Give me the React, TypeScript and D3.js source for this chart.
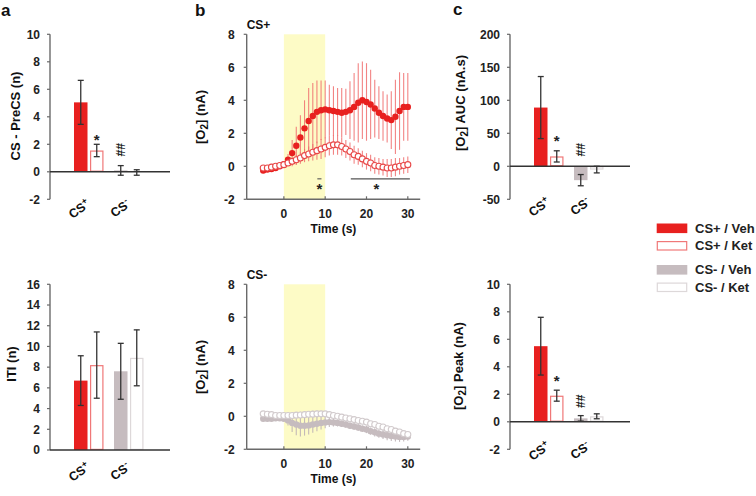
import React from 'react';
import * as d3 from 'd3';

// ---------- data ----------
const groups = ['CS+', 'CS-'];
const conditions = ['Veh', 'Ket'];

// panel a (top): CS - PreCS (n)   order: CS+/Veh, CS+/Ket, CS-/Veh, CS-/Ket
const preCsMean = [5.05, 1.55, 0.1, -0.05];
const preCsErr = [1.6, 0.45, 0.35, 0.2];
// panel a (bottom): ITI (n)
const itiMean = [6.7, 8.2, 7.6, 8.9];
const itiErr = [2.4, 3.2, 2.7, 2.7];
// panel c (top): [O2] AUC (nA.s)
const aucMean = [89, 15, -21, -5];
const aucErr = [47, 8.5, 8.5, 5];
// panel c (bottom): [O2] Peak (nA)
const peakMean = [5.5, 1.9, 0.25, 0.4];
const peakErr = [2.1, 0.4, 0.2, 0.18];

// tick labels
const ticksPreCs = [-2, 0, 2, 4, 6, 8, 10];
const ticksIti = [0, 2, 4, 6, 8, 10, 12, 14, 16];
const ticksAuc = [-50, 0, 50, 100, 150, 200];
const ticksPeak = [-2, 0, 2, 4, 6, 8, 10];
const ticksO2 = [-2, 0, 2, 4, 6, 8];
const ticksTime = [0, 10, 20, 30];

// panel b: time course (s)
const time = [-5, -4, -3, -2, -1, 0, 1, 2, 3, 4, 5, 6, 7, 8, 9, 10, 11, 12, 13, 14, 15, 16, 17, 18, 19, 20, 21, 22, 23, 24, 25, 26, 27, 28, 29, 30];
const cspVeh = [-0.25, -0.2, -0.17, -0.1, 0, 0.13, 0.4, 0.8, 1.25, 1.75, 2.3, 2.75, 3.05, 3.3, 3.4, 3.45, 3.4, 3.35, 3.3, 3.25, 3.3, 3.4, 3.6, 3.85, 4.0, 3.9, 3.75, 3.5, 3.25, 3.05, 2.9, 2.8, 3.0, 3.35, 3.6, 3.6];
const cspVehErr = [0.05, 0.05, 0.05, 0.05, 0.05, 0.1, 0.35, 0.8, 1.15, 1.35, 1.7, 2.0, 2.0, 1.9, 1.8, 1.75, 1.55, 1.5, 1.45, 1.5, 1.4, 1.75, 2.05, 2.4, 2.35, 2.35, 2.1, 1.75, 1.6, 1.5, 1.45, 1.75, 2.25, 2.35, 2.05, 2.05];
const cspKet = [-0.1, -0.1, -0.05, 0, 0.05, 0.1, 0.2, 0.3, 0.4, 0.5, 0.65, 0.75, 0.85, 0.95, 1.05, 1.15, 1.25, 1.3, 1.3, 1.2, 1.05, 0.9, 0.7, 0.6, 0.45, 0.3, 0.2, 0.05, 0, -0.05, -0.1, -0.1, -0.05, 0, 0.05, 0.1];
const cspKetErr = [0.05, 0.05, 0.05, 0.05, 0.05, 0.1, 0.15, 0.2, 0.3, 0.35, 0.4, 0.45, 0.5, 0.55, 0.6, 0.6, 0.6, 0.6, 0.6, 0.55, 0.55, 0.55, 0.55, 0.5, 0.5, 0.5, 0.5, 0.5, 0.5, 0.5, 0.55, 0.55, 0.55, 0.5, 0.5, 0.5];
const csmVeh = [-0.15, -0.15, -0.15, -0.12, -0.12, -0.15, -0.25, -0.4, -0.5, -0.57, -0.57, -0.55, -0.5, -0.45, -0.4, -0.37, -0.35, -0.37, -0.4, -0.45, -0.5, -0.57, -0.62, -0.68, -0.75, -0.8, -0.9, -0.97, -1.05, -1.1, -1.15, -1.2, -1.23, -1.25, -1.25, -1.23];
const csmVehErr = [0.08, 0.08, 0.08, 0.08, 0.08, 0.1, 0.3, 0.55, 0.65, 0.65, 0.6, 0.55, 0.5, 0.45, 0.4, 0.35, 0.3, 0.25, 0.22, 0.2, 0.2, 0.2, 0.2, 0.2, 0.2, 0.22, 0.22, 0.25, 0.25, 0.28, 0.3, 0.3, 0.3, 0.3, 0.28, 0.25];
const csmKet = [0.15, 0.12, 0.1, 0.05, 0.05, 0.05, 0.05, 0.05, 0.07, 0.08, 0.1, 0.12, 0.13, 0.15, 0.15, 0.15, 0.1, 0.05, 0, -0.05, -0.1, -0.15, -0.2, -0.25, -0.3, -0.35, -0.45, -0.5, -0.6, -0.65, -0.75, -0.8, -0.9, -0.95, -1.05, -1.1];
const csmKetErr = [0.1, 0.1, 0.1, 0.1, 0.1, 0.1, 0.12, 0.15, 0.18, 0.2, 0.2, 0.2, 0.2, 0.2, 0.18, 0.16, 0.15, 0.14, 0.13, 0.12, 0.12, 0.12, 0.12, 0.12, 0.12, 0.12, 0.12, 0.12, 0.12, 0.12, 0.12, 0.12, 0.12, 0.12, 0.12, 0.12];

// cue period (s) and significance spans (s)
const cueSpan = [0, 10];
const sigSpans = [[8.1, 9.1], [16.2, 30.5]];

const legendLabels = ['CS+ / Veh', 'CS+ / Ket', 'CS- / Veh', 'CS- / Ket'];

// ---------- styles ----------
const FONT = '"Liberation Sans", Arial, Helvetica, sans-serif';
const RED = '#e8201f';
const RED_LIGHT = '#f07878';
const GREY = '#c6bcbf';
const GREY_LIGHT = '#ddd8d9';
const AXIS = '#6a6a6a';
const DARK = '#333';

const barFill = [RED, '#fff', GREY, '#fff'];
const barStroke = [RED, RED_LIGHT, GREY, GREY_LIGHT];

type BarProps = {
  x0: number; yTop: number; yBot: number; domain: [number, number]; ticks: number[];
  means: number[]; errs: number[]; title: string | React.ReactNode; titleX: number; titleY: number;
  labelY: number; star?: number; hash?: number;
};

function CatLabel({ x, y, name }: { x: number; y: number; name: string }) {
  return (
    <text x={x} y={y} textAnchor="end" transform={`rotate(-35 ${x} ${y})`} fontSize={12.5} fontWeight="bold" fontFamily={FONT} fill="#111">
      <tspan>CS</tspan>
      <tspan dy={-5} fontSize={9}>{name.slice(2)}</tspan>
    </text>
  );
}

function Hash({ x, yc }: { x: number; yc: number }) {
  // stacked "##" drawn as one rotated text
  return (
    <text x={x} y={yc} dy="0.36em" textAnchor="middle" transform={`rotate(90 ${x} ${yc})`} fontSize={12.5} fontWeight="bold" fontFamily={FONT} fill="#222"
      textLength={13.5} lengthAdjust="spacingAndGlyphs">##</text>
  );
}

function BarPanel(p: BarProps) {
  const y = d3.scaleLinear().domain(p.domain).range([p.yBot, p.yTop]);
  const outer = d3.scaleBand().domain(groups).range([p.x0 + 20, p.x0 + 100]);
  const inner = d3.scaleBand().domain(conditions).range([4, 33.5]).paddingInner(0.156);
  const bw = inner.bandwidth();
  const bars = groups.flatMap((g, gi) => conditions.map((c, ci) => ({ g, c, i: gi * 2 + ci, x: (outer(g) as number) + (inner(c) as number) })));
  return (
    <g>
      <line x1={p.x0} x2={p.x0} y1={p.yTop} y2={p.yBot} stroke={AXIS} strokeWidth={1.4} />
      {p.ticks.map((t) => (
        <g key={t}>
          <line x1={p.x0 - 3} x2={p.x0} y1={y(t)} y2={y(t)} stroke={AXIS} strokeWidth={1.2} />
          <text x={p.x0 - 10} y={y(t)} dy="0.36em" textAnchor="end" fontSize={12} fontWeight="bold" fontFamily={FONT} fill="#222">{t}</text>
        </g>
      ))}
      {bars.map((b) => {
        const m = p.means[b.i];
        const top = Math.min(y(m), y(0));
        const h = Math.abs(y(m) - y(0));
        const white = barFill[b.i] === '#fff';
        return (
          <rect key={b.i} x={white ? b.x + 0.6 : b.x} y={white ? top + 0.6 : top} width={white ? bw - 1.2 : bw} height={white ? Math.max(h - 1.2, 0) : h}
            fill={barFill[b.i]} stroke={white ? barStroke[b.i] : 'none'} strokeWidth={1.2} />
        );
      })}
      <line x1={p.x0} x2={p.x0 + 120} y1={y(0)} y2={y(0)} stroke={DARK} strokeWidth={1.4} />
      {bars.map((b) => {
        const m = p.means[b.i];
        const e = p.errs[b.i];
        const cx = b.x + bw / 2;
        return (
          <g key={'e' + b.i} stroke={DARK} strokeWidth={1.3}>
            <line x1={cx} x2={cx} y1={y(m - e)} y2={y(m + e)} />
            <line x1={cx - 3} x2={cx + 3} y1={y(m - e)} y2={y(m - e)} />
            <line x1={cx - 3} x2={cx + 3} y1={y(m + e)} y2={y(m + e)} />
          </g>
        );
      })}
      {p.star !== undefined && (
        <text x={bars[1].x + bw / 2} y={y(p.star) + 8} textAnchor="middle" fontSize={15} fontWeight="bold" fontFamily={FONT} fill="#222">*</text>
      )}
      {p.hash !== undefined && <Hash x={bars[2].x + bw / 2} yc={y(p.hash)} />}
      {groups.map((g) => (
        <CatLabel key={g} x={(outer(g) as number) + outer.bandwidth() / 2 + 1} y={p.labelY} name={g} />
      ))}
      <text x={p.titleX} y={p.titleY} textAnchor="middle" transform={`rotate(-90 ${p.titleX} ${p.titleY})`} fontSize={13} fontWeight="bold" fontFamily={FONT} fill="#111">{p.title}</text>
    </g>
  );
}

function O2Title({ x, y, rest }: { x: number; y: number; rest: string }) {
  return (
    <text x={x} y={y} textAnchor="middle" transform={`rotate(-90 ${x} ${y})`} fontSize={13} fontWeight="bold" fontFamily={FONT} fill="#111">
      <tspan>[O</tspan>
      <tspan dy={3} fontSize={10}>2</tspan>
      <tspan dy={-3}>{`] ${rest}`}</tspan>
    </text>
  );
}

type LineProps = {
  dy: number; label: string; veh: number[]; vehErr: number[]; ket: number[]; ketErr: number[];
  vehColor: string; errColor: string; ketStroke: string; sig?: boolean;
};

function LinePanel(p: LineProps) {
  const x0 = 246.7;
  const x = d3.scaleLinear().domain([-9, 33]).range([x0, 420.2]);
  const y = d3.scaleLinear().domain([-2, 8]).range([199.3 + p.dy, 34.3 + p.dy]);
  return (
    <g>
      <rect x={x(cueSpan[0])} y={y(8)} width={x(cueSpan[1]) - x(cueSpan[0])} height={y(-2) - y(8)} fill="#fdfbc6" />
      <line x1={x0} x2={x0} y1={y(8)} y2={y(-2)} stroke={AXIS} strokeWidth={1.4} />
      <line x1={x0} x2={420.2} y1={y(-2)} y2={y(-2)} stroke={AXIS} strokeWidth={1.4} />
      {ticksO2.map((t) => (
        <g key={t}>
          <line x1={x0 - 3} x2={x0} y1={y(t)} y2={y(t)} stroke={AXIS} strokeWidth={1.2} />
          <text x={x0 - 12} y={y(t)} dy="0.36em" textAnchor="end" fontSize={12} fontWeight="bold" fontFamily={FONT} fill="#222">{t}</text>
        </g>
      ))}
      {ticksTime.map((t) => (
        <g key={t}>
          <line x1={x(t)} x2={x(t)} y1={y(-2)} y2={y(-2) - 3} stroke={AXIS} strokeWidth={1.2} />
          <text x={x(t)} y={y(-2) + 19} textAnchor="middle" fontSize={12} fontWeight="bold" fontFamily={FONT} fill="#222">{t}</text>
        </g>
      ))}
      <text x={x(12)} y={y(-2) + 34} textAnchor="middle" fontSize={12} fontWeight="bold" fontFamily={FONT} fill="#111">Time (s)</text>
      <text x={x0} y={29 + p.dy} fontSize={12} fontWeight="bold" fontFamily={FONT} fill="#111">{p.label}</text>
      <O2Title x={205} y={117 + p.dy} rest="(nA)" />
      {time.map((t, i) => (
        <line key={'ve' + i} x1={x(t)} x2={x(t)} y1={y(p.veh[i] - p.vehErr[i])} y2={y(p.veh[i] + p.vehErr[i])} stroke={p.errColor} strokeWidth={1.1} />
      ))}
      {time.map((t, i) => (
        <circle key={'vm' + i} cx={x(t)} cy={y(p.veh[i])} r={3.2} fill={p.vehColor} />
      ))}
      {time.map((t, i) => (
        <line key={'ke' + i} x1={x(t)} x2={x(t)} y1={y(p.ket[i] - p.ketErr[i])} y2={y(p.ket[i] + p.ketErr[i])} stroke={p.errColor} strokeWidth={1.1} />
      ))}
      {time.map((t, i) => (
        <circle key={'km' + i} cx={x(t)} cy={y(p.ket[i])} r={3} fill="#fff" stroke={p.ketStroke} strokeWidth={1.1} />
      ))}
      {p.sig && sigSpans.map((s, k) => (
        <g key={'s' + k}>
          <line x1={x(s[0])} x2={x(s[1])} y1={y(-0.76)} y2={y(-0.76)} stroke="#555" strokeWidth={1.1} />
          <text x={x((s[0] + s[1]) / 2) + (k === 1 ? -4 : 0)} y={y(-0.76) + 15} textAnchor="middle" fontSize={15} fontWeight="bold" fontFamily={FONT} fill="#222">*</text>
        </g>
      ))}
    </g>
  );
}

function Legend() {
  const ys = [223.5, 241, 265, 282.5];
  return (
    <g>
      {legendLabels.map((l, i) => {
        const white = barFill[i] === '#fff';
        return (
          <g key={l}>
            <rect x={white ? 657.3 : 656.7} y={white ? ys[i] + 0.6 : ys[i]} width={white ? 29.4 : 30.6} height={white ? 8.4 : 9.6}
              fill={barFill[i]} stroke={white ? barStroke[i] : 'none'} strokeWidth={1.2} />
            <text x={695} y={ys[i] + 4.8} dy="0.36em" fontSize={13} fontWeight="bold" fontFamily={FONT} fill="#222">{l}</text>
          </g>
        );
      })}
    </g>
  );
}

export default function App() {
  return (
    <svg width={756} height={496} viewBox="0 0 756 496" style={{ position: 'absolute', left: 0, top: 0, background: '#fff' }}>
      <rect width={756} height={496} fill="#fff" />
      <text x={1} y={16} fontSize={17} fontWeight="bold" fontFamily={FONT} fill="#111">a</text>
      <text x={195} y={16} fontSize={17} fontWeight="bold" fontFamily={FONT} fill="#111">b</text>
      <text x={453} y={15} fontSize={17} fontWeight="bold" fontFamily={FONT} fill="#111">c</text>

      <BarPanel x0={50} yTop={34.3} yBot={199.3} domain={[-2, 10]} ticks={ticksPreCs} means={preCsMean} errs={preCsErr}
        title="CS - PreCS (n)" titleX={19.5} titleY={116} labelY={206} star={2.5} hash={1.6} />
      <BarPanel x0={50} yTop={284.3} yBot={450} domain={[0, 16]} ticks={ticksIti} means={itiMean} errs={itiErr}
        title="ITI (n)" titleX={16} titleY={364} labelY={469} />
      <BarPanel x0={510} yTop={34.3} yBot={199.3} domain={[-50, 200]} ticks={ticksAuc} means={aucMean} errs={aucErr}
        title={<><tspan>[O</tspan><tspan dy={3} fontSize={10}>2</tspan><tspan dy={-3}>] AUC (nA.s)</tspan></>} titleX={465} titleY={103} labelY={204} star={43} hash={25} />
      <BarPanel x0={510} yTop={284.3} yBot={449.3} domain={[-2, 10]} ticks={ticksPeak} means={peakMean} errs={peakErr}
        title={<><tspan>[O</tspan><tspan dy={3} fontSize={10}>2</tspan><tspan dy={-3}>] Peak (nA)</tspan></>} titleX={463} titleY={366} labelY={448} star={3.2} hash={1.5} />

      <LinePanel dy={0} label="CS+" veh={cspVeh} vehErr={cspVehErr} ket={cspKet} ketErr={cspKetErr}
        vehColor={RED} errColor="rgba(240,110,110,0.85)" ketStroke="#e84848" sig />
      <LinePanel dy={250} label="CS-" veh={csmVeh} vehErr={csmVehErr} ket={csmKet} ketErr={csmKetErr}
        vehColor={GREY} errColor="rgba(190,178,182,0.9)" ketStroke="#d2cbcd" />

      <Legend />
    </svg>
  );
}
